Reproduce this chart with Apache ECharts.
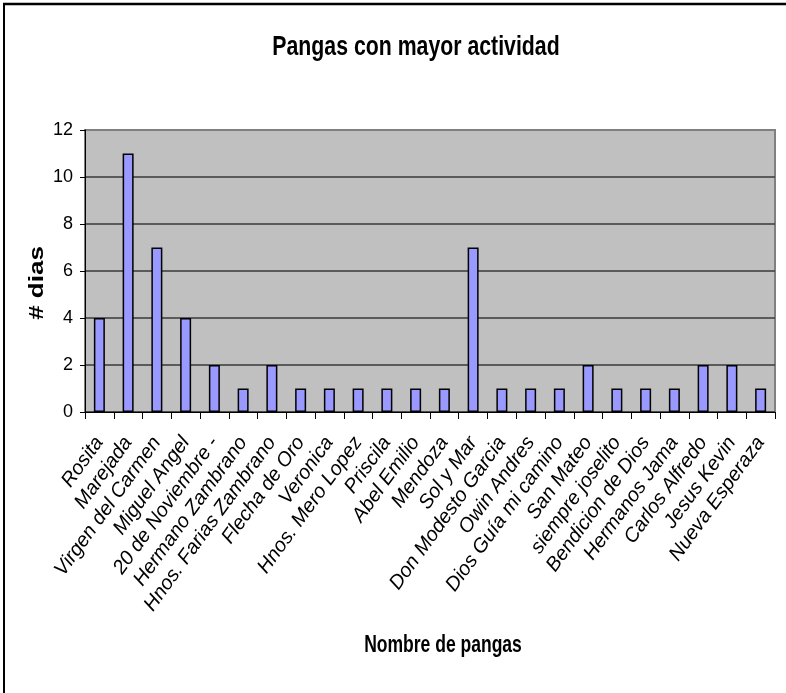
<!DOCTYPE html>
<html>
<head>
<meta charset="utf-8">
<title>Pangas con mayor actividad</title>
<script src="https://cdn.jsdelivr.net/npm/echarts@6/dist/echarts.min.js"></script>
<style>
  html, body { margin: 0; padding: 0; background: #ffffff; }
  #chart { width: 786px; height: 693px; }
</style>
</head>
<body>
<div id="chart"></div>
<script>
// Boats (pangas) and the number of days each one was active
const pangas = [
  'Rosita', 'Marejada', 'Virgen del Carmen', 'Miguel Angel', '20 de Noviembre -',
  'Hermano Zambrano', 'Hnos. Farias Zambrano', 'Flecha de Oro', 'Veronica',
  'Hnos. Mero Lopez', 'Priscila', 'Abel Emilio', 'Mendoza', 'Sol y Mar',
  'Don Modesto Garcia', 'Owin Andres', 'Dios Guía mi camino', 'San Mateo',
  'siempre joselito', 'Bendicion de Dios', 'Hermanos Jama', 'Carlos Alfredo',
  'Jesus Kevin', 'Nueva Esperaza'
];
const dias = [4, 11, 7, 4, 2, 1, 2, 1, 1, 1, 1, 1, 1, 7, 1, 1, 1, 2, 1, 1, 1, 2, 2, 1];
const yTicks = [0, 2, 4, 6, 8, 10, 12];

const chartTitle = 'Pangas con mayor actividad';
const xTitle = 'Nombre de pangas';
const yTitle = '# dias';

const chart = echarts.init(document.getElementById('chart'), null, { renderer: 'canvas' });

const sans = '"Liberation Sans", Arial, sans-serif';

// Bold headings drawn a little condensed horizontally
function heading(text, x, y, size, squeeze, rotation) {
  const el = {
    type: 'text',
    x: x, y: y,
    silent: true,
    style: {
      text: text,
      fontFamily: sans, fontWeight: 'bold', fontSize: size,
      fill: '#000000',
      textAlign: 'center', align: 'center',
      textVerticalAlign: 'middle', verticalAlign: 'middle'
    }
  };
  if (rotation) {
    el.rotation = rotation;
    el.scaleY = squeeze;
  } else {
    el.scaleX = squeeze;
  }
  return el;
}

chart.setOption({
  animation: false,
  backgroundColor: '#ffffff',
  graphic: [
    // outer frame (top and left edges)
    { type: 'line', shape: { x1: 3, y1: 4, x2: 786, y2: 4 }, style: { stroke: '#000000', lineWidth: 2.5 }, silent: true },
    { type: 'line', shape: { x1: 4, y1: 3, x2: 4, y2: 693 }, style: { stroke: '#000000', lineWidth: 2 }, silent: true },
    heading(chartTitle, 416, 47, 28, 0.76, 0),
    heading(xTitle, 443, 645, 24, 0.73, 0),
    heading(yTitle, 38, 283, 26, 0.76, Math.PI / 2)
  ],
  grid: {
    left: 85, right: 11, top: 130, bottom: 281,
    show: true,
    backgroundColor: '#c0c0c0',
    borderColor: '#808080',
    borderWidth: 2
  },
  xAxis: {
    type: 'category',
    data: pangas,
    axisLine: { show: true, lineStyle: { color: '#000000', width: 1 } },
    axisTick: { show: true, length: 7, alignWithLabel: false, lineStyle: { color: '#000000' } },
    axisLabel: {
      interval: 0,
      rotate: 54,
      margin: 27,
      fontFamily: sans,
      fontStyle: 'italic',
      fontSize: 20,
      color: '#000000'
    },
    splitLine: { show: false }
  },
  yAxis: {
    type: 'value',
    min: yTicks[0],
    max: yTicks[yTicks.length - 1],
    interval: 2,
    axisLine: { show: true, lineStyle: { color: '#000000', width: 1 } },
    axisTick: { show: true, length: 5, lineStyle: { color: '#000000' } },
    axisLabel: { margin: 12, fontFamily: sans, fontSize: 18, color: '#000000' },
    splitLine: {
      show: true,
      lineStyle: {
        color: ['#3a3a3a', '#3a3a3a', '#3a3a3a', '#3a3a3a', '#3a3a3a', '#3a3a3a', '#808080'],
        width: 1.5
      }
    }
  },
  series: [{
    type: 'bar',
    data: dias,
    barWidth: 11,
    itemStyle: { color: '#9999ff', borderColor: '#000000', borderWidth: 1.5 },
    emphasis: { disabled: true }
  }]
});
</script>
</body>
</html>
